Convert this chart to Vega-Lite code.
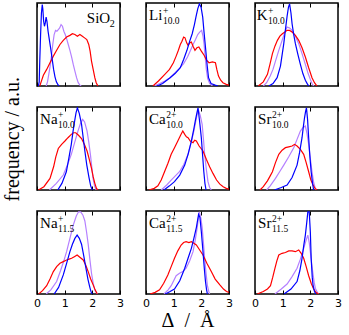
{
"$schema": "https://vega.github.io/schema/vega-lite/v6.json",
"background": "white",
"padding": {"left": 2, "top": 1, "right": 0, "bottom": 0},
"title": {"text": "frequency / a.u.", "orient": "left", "anchor": "middle", "font": "Liberation Serif", "fontSize": 20, "fontWeight": "normal", "color": "black", "offset": 10, "dx": 27},
"datasets": {
"labels": [
{"panel":"SiO2","base":"SiO","sup":"","sub":"2"},
{"panel":"Li10","base":"Li","sup":"+","sub":"10.0"},
{"panel":"K10","base":"K","sup":"+","sub":"10.0"},
{"panel":"Na10","base":"Na","sup":"+","sub":"10.0"},
{"panel":"Ca10","base":"Ca","sup":"2+","sub":"10.0"},
{"panel":"Sr10","base":"Sr","sup":"2+","sub":"10.0"},
{"panel":"Na115","base":"Na","sup":"+","sub":"11.5"},
{"panel":"Ca115","base":"Ca","sup":"2+","sub":"11.5"},
{"panel":"Sr115","base":"Sr","sup":"2+","sub":"11.5"}
],
"SiO2": [
{"series":"purple","delta":0.33,"freq":0},{"series":"purple","delta":0.38,"freq":0.05},{"series":"purple","delta":0.43,"freq":0.15},{"series":"purple","delta":0.47,"freq":0.23},{"series":"purple","delta":0.52,"freq":0.35},{"series":"purple","delta":0.57,"freq":0.5},{"series":"purple","delta":0.62,"freq":0.62},{"series":"purple","delta":0.67,"freq":0.67},{"series":"purple","delta":0.72,"freq":0.66},{"series":"purple","delta":0.77,"freq":0.68},{"series":"purple","delta":0.82,"freq":0.7},{"series":"purple","delta":0.87,"freq":0.74},{"series":"purple","delta":0.92,"freq":0.72},{"series":"purple","delta":0.97,"freq":0.66},{"series":"purple","delta":1.02,"freq":0.62},{"series":"purple","delta":1.07,"freq":0.57},{"series":"purple","delta":1.13,"freq":0.5},{"series":"purple","delta":1.19,"freq":0.43},{"series":"purple","delta":1.25,"freq":0.35},{"series":"purple","delta":1.31,"freq":0.26},{"series":"purple","delta":1.37,"freq":0.18},{"series":"purple","delta":1.43,"freq":0.1},{"series":"purple","delta":1.49,"freq":0.04},{"series":"purple","delta":1.55,"freq":0.01},{"series":"purple","delta":1.6,"freq":0},
{"series":"red","delta":0.1,"freq":0},{"series":"red","delta":0.15,"freq":0.05},{"series":"red","delta":0.23,"freq":0.13},{"series":"red","delta":0.35,"freq":0.2},{"series":"red","delta":0.47,"freq":0.28},{"series":"red","delta":0.59,"freq":0.36},{"series":"red","delta":0.71,"freq":0.43},{"series":"red","delta":0.83,"freq":0.5},{"series":"red","delta":0.95,"freq":0.55},{"series":"red","delta":1.07,"freq":0.59},{"series":"red","delta":1.19,"freq":0.61},{"series":"red","delta":1.28,"freq":0.63},{"series":"red","delta":1.37,"freq":0.62},{"series":"red","delta":1.46,"freq":0.6},{"series":"red","delta":1.55,"freq":0.62},{"series":"red","delta":1.64,"freq":0.6},{"series":"red","delta":1.72,"freq":0.58},{"series":"red","delta":1.8,"freq":0.56},{"series":"red","delta":1.87,"freq":0.5},{"series":"red","delta":1.92,"freq":0.42},{"series":"red","delta":1.97,"freq":0.3},{"series":"red","delta":2.03,"freq":0.2},{"series":"red","delta":2.09,"freq":0.1},{"series":"red","delta":2.14,"freq":0.04},{"series":"red","delta":2.2,"freq":0},
{"series":"blue","delta":0.05,"freq":0},{"series":"blue","delta":0.08,"freq":0.05},{"series":"blue","delta":0.1,"freq":0.3},{"series":"blue","delta":0.13,"freq":0.62},{"series":"blue","delta":0.16,"freq":0.88},{"series":"blue","delta":0.19,"freq":0.98},{"series":"blue","delta":0.21,"freq":0.93},{"series":"blue","delta":0.24,"freq":0.78},{"series":"blue","delta":0.27,"freq":0.72},{"series":"blue","delta":0.3,"freq":0.76},{"series":"blue","delta":0.33,"freq":0.83},{"series":"blue","delta":0.36,"freq":0.78},{"series":"blue","delta":0.4,"freq":0.66},{"series":"blue","delta":0.45,"freq":0.55},{"series":"blue","delta":0.5,"freq":0.44},{"series":"blue","delta":0.55,"freq":0.32},{"series":"blue","delta":0.6,"freq":0.2},{"series":"blue","delta":0.65,"freq":0.11},{"series":"blue","delta":0.7,"freq":0.05},{"series":"blue","delta":0.75,"freq":0.02},{"series":"blue","delta":0.8,"freq":0}
],
"Li10": [
{"series":"purple","delta":0.3,"freq":0},{"series":"purple","delta":0.5,"freq":0.03},{"series":"purple","delta":0.68,"freq":0.06},{"series":"purple","delta":0.87,"freq":0.1},{"series":"purple","delta":1.05,"freq":0.16},{"series":"purple","delta":1.2,"freq":0.21},{"series":"purple","delta":1.36,"freq":0.27},{"series":"purple","delta":1.5,"freq":0.35},{"series":"purple","delta":1.61,"freq":0.43},{"series":"purple","delta":1.7,"freq":0.5},{"series":"purple","delta":1.79,"freq":0.56},{"series":"purple","delta":1.87,"freq":0.62},{"series":"purple","delta":1.94,"freq":0.65},{"series":"purple","delta":2.01,"freq":0.67},{"series":"purple","delta":2.06,"freq":0.6},{"series":"purple","delta":2.1,"freq":0.5},{"series":"purple","delta":2.14,"freq":0.35},{"series":"purple","delta":2.18,"freq":0.2},{"series":"purple","delta":2.23,"freq":0.09},{"series":"purple","delta":2.3,"freq":0.03},{"series":"purple","delta":2.4,"freq":0},
{"series":"red","delta":0.25,"freq":0},{"series":"red","delta":0.45,"freq":0.06},{"series":"red","delta":0.68,"freq":0.14},{"series":"red","delta":0.85,"freq":0.2},{"series":"red","delta":0.99,"freq":0.28},{"series":"red","delta":1.09,"freq":0.36},{"series":"red","delta":1.17,"freq":0.43},{"series":"red","delta":1.24,"freq":0.5},{"series":"red","delta":1.3,"freq":0.54},{"series":"red","delta":1.36,"freq":0.59},{"series":"red","delta":1.41,"freq":0.58},{"series":"red","delta":1.47,"freq":0.52},{"series":"red","delta":1.52,"freq":0.49},{"series":"red","delta":1.58,"freq":0.52},{"series":"red","delta":1.64,"freq":0.53},{"series":"red","delta":1.7,"freq":0.48},{"series":"red","delta":1.77,"freq":0.43},{"series":"red","delta":1.84,"freq":0.46},{"series":"red","delta":1.91,"freq":0.47},{"series":"red","delta":2.0,"freq":0.42},{"series":"red","delta":2.1,"freq":0.37},{"series":"red","delta":2.19,"freq":0.31},{"series":"red","delta":2.28,"freq":0.28},{"series":"red","delta":2.4,"freq":0.29},{"series":"red","delta":2.51,"freq":0.28},{"series":"red","delta":2.56,"freq":0.2},{"series":"red","delta":2.62,"freq":0.12},{"series":"red","delta":2.7,"freq":0.07},{"series":"red","delta":2.78,"freq":0.04},{"series":"red","delta":2.9,"freq":0.02},{"series":"red","delta":3.0,"freq":0.01},
{"series":"blue","delta":0.4,"freq":0},{"series":"blue","delta":0.6,"freq":0.03},{"series":"blue","delta":0.87,"freq":0.1},{"series":"blue","delta":1.05,"freq":0.15},{"series":"blue","delta":1.24,"freq":0.22},{"series":"blue","delta":1.36,"freq":0.32},{"series":"blue","delta":1.48,"freq":0.43},{"series":"blue","delta":1.58,"freq":0.54},{"series":"blue","delta":1.67,"freq":0.63},{"series":"blue","delta":1.75,"freq":0.74},{"series":"blue","delta":1.81,"freq":0.84},{"series":"blue","delta":1.87,"freq":0.93},{"series":"blue","delta":1.93,"freq":0.99},{"series":"blue","delta":1.99,"freq":0.95},{"series":"blue","delta":2.05,"freq":0.83},{"series":"blue","delta":2.1,"freq":0.64},{"series":"blue","delta":2.16,"freq":0.43},{"series":"blue","delta":2.21,"freq":0.25},{"series":"blue","delta":2.26,"freq":0.1},{"series":"blue","delta":2.35,"freq":0.03},{"series":"blue","delta":2.5,"freq":0.01},{"series":"blue","delta":2.6,"freq":0}
],
"K10": [
{"series":"purple","delta":0.3,"freq":0},{"series":"purple","delta":0.42,"freq":0.04},{"series":"purple","delta":0.55,"freq":0.12},{"series":"purple","delta":0.65,"freq":0.2},{"series":"purple","delta":0.74,"freq":0.3},{"series":"purple","delta":0.86,"freq":0.43},{"series":"purple","delta":0.98,"freq":0.55},{"series":"purple","delta":1.07,"freq":0.64},{"series":"purple","delta":1.16,"freq":0.71},{"series":"purple","delta":1.25,"freq":0.7},{"series":"purple","delta":1.34,"freq":0.67},{"series":"purple","delta":1.46,"freq":0.6},{"series":"purple","delta":1.58,"freq":0.51},{"series":"purple","delta":1.7,"freq":0.39},{"series":"purple","delta":1.82,"freq":0.26},{"series":"purple","delta":1.92,"freq":0.15},{"series":"purple","delta":2.0,"freq":0.08},{"series":"purple","delta":2.06,"freq":0.03},{"series":"purple","delta":2.12,"freq":0},
{"series":"red","delta":0.12,"freq":0},{"series":"red","delta":0.3,"freq":0.05},{"series":"red","delta":0.45,"freq":0.14},{"series":"red","delta":0.54,"freq":0.26},{"series":"red","delta":0.63,"freq":0.39},{"series":"red","delta":0.72,"freq":0.48},{"series":"red","delta":0.81,"freq":0.55},{"series":"red","delta":0.9,"freq":0.6},{"series":"red","delta":0.99,"freq":0.63},{"series":"red","delta":1.08,"freq":0.65},{"series":"red","delta":1.16,"freq":0.67},{"series":"red","delta":1.25,"freq":0.67},{"series":"red","delta":1.34,"freq":0.65},{"series":"red","delta":1.46,"freq":0.61},{"series":"red","delta":1.58,"freq":0.55},{"series":"red","delta":1.7,"freq":0.46},{"series":"red","delta":1.82,"freq":0.35},{"series":"red","delta":1.94,"freq":0.22},{"series":"red","delta":2.06,"freq":0.1},{"series":"red","delta":2.15,"freq":0.04},{"series":"red","delta":2.24,"freq":0},
{"series":"blue","delta":0.5,"freq":0},{"series":"blue","delta":0.65,"freq":0.03},{"series":"blue","delta":0.8,"freq":0.1},{"series":"blue","delta":0.92,"freq":0.24},{"series":"blue","delta":1.04,"freq":0.51},{"series":"blue","delta":1.1,"freq":0.68},{"series":"blue","delta":1.16,"freq":0.84},{"series":"blue","delta":1.21,"freq":0.95},{"series":"blue","delta":1.25,"freq":0.99},{"series":"blue","delta":1.3,"freq":0.88},{"series":"blue","delta":1.34,"freq":0.75},{"series":"blue","delta":1.4,"freq":0.62},{"series":"blue","delta":1.46,"freq":0.51},{"series":"blue","delta":1.55,"freq":0.38},{"series":"blue","delta":1.64,"freq":0.26},{"series":"blue","delta":1.73,"freq":0.15},{"series":"blue","delta":1.82,"freq":0.07},{"series":"blue","delta":1.9,"freq":0.02},{"series":"blue","delta":1.95,"freq":0}
],
"Na10": [
{"series":"purple","delta":0.45,"freq":0},{"series":"purple","delta":0.7,"freq":0.08},{"series":"purple","delta":0.95,"freq":0.18},{"series":"purple","delta":1.1,"freq":0.3},{"series":"purple","delta":1.24,"freq":0.43},{"series":"purple","delta":1.36,"freq":0.57},{"series":"purple","delta":1.48,"freq":0.71},{"series":"purple","delta":1.57,"freq":0.8},{"series":"purple","delta":1.65,"freq":0.85},{"series":"purple","delta":1.72,"freq":0.82},{"series":"purple","delta":1.81,"freq":0.71},{"series":"purple","delta":1.87,"freq":0.58},{"series":"purple","delta":1.93,"freq":0.43},{"series":"purple","delta":1.98,"freq":0.28},{"series":"purple","delta":2.02,"freq":0.15},{"series":"purple","delta":2.08,"freq":0.05},{"series":"purple","delta":2.14,"freq":0},
{"series":"red","delta":0.05,"freq":0},{"series":"red","delta":0.25,"freq":0.04},{"series":"red","delta":0.47,"freq":0.14},{"series":"red","delta":0.6,"freq":0.28},{"series":"red","delta":0.68,"freq":0.4},{"series":"red","delta":0.77,"freq":0.5},{"series":"red","delta":0.89,"freq":0.55},{"series":"red","delta":1.01,"freq":0.59},{"series":"red","delta":1.12,"freq":0.63},{"series":"red","delta":1.24,"freq":0.67},{"series":"red","delta":1.32,"freq":0.69},{"series":"red","delta":1.4,"freq":0.69},{"series":"red","delta":1.5,"freq":0.66},{"series":"red","delta":1.61,"freq":0.62},{"series":"red","delta":1.71,"freq":0.55},{"series":"red","delta":1.81,"freq":0.47},{"series":"red","delta":1.89,"freq":0.37},{"series":"red","delta":1.97,"freq":0.26},{"series":"red","delta":2.03,"freq":0.16},{"series":"red","delta":2.09,"freq":0.08},{"series":"red","delta":2.15,"freq":0.02},{"series":"red","delta":2.2,"freq":0},
{"series":"blue","delta":0.75,"freq":0},{"series":"blue","delta":0.9,"freq":0.08},{"series":"blue","delta":1.06,"freq":0.22},{"series":"blue","delta":1.15,"freq":0.38},{"series":"blue","delta":1.24,"freq":0.55},{"series":"blue","delta":1.3,"freq":0.7},{"series":"blue","delta":1.36,"freq":0.83},{"series":"blue","delta":1.41,"freq":0.93},{"series":"blue","delta":1.46,"freq":0.99},{"series":"blue","delta":1.53,"freq":0.92},{"series":"blue","delta":1.61,"freq":0.79},{"series":"blue","delta":1.67,"freq":0.63},{"series":"blue","delta":1.73,"freq":0.47},{"series":"blue","delta":1.8,"freq":0.3},{"series":"blue","delta":1.88,"freq":0.15},{"series":"blue","delta":1.94,"freq":0.05},{"series":"blue","delta":2.0,"freq":0}
],
"Ca10": [
{"series":"purple","delta":0.55,"freq":0},{"series":"purple","delta":0.75,"freq":0.06},{"series":"purple","delta":0.91,"freq":0.12},{"series":"purple","delta":1.06,"freq":0.17},{"series":"purple","delta":1.21,"freq":0.22},{"series":"purple","delta":1.37,"freq":0.31},{"series":"purple","delta":1.52,"freq":0.43},{"series":"purple","delta":1.63,"freq":0.57},{"series":"purple","delta":1.73,"freq":0.71},{"series":"purple","delta":1.8,"freq":0.83},{"series":"purple","delta":1.86,"freq":0.93},{"series":"purple","delta":1.9,"freq":0.96},{"series":"purple","delta":1.96,"freq":0.9},{"series":"purple","delta":2.03,"freq":0.79},{"series":"purple","delta":2.08,"freq":0.6},{"series":"purple","delta":2.12,"freq":0.43},{"series":"purple","delta":2.18,"freq":0.25},{"series":"purple","delta":2.24,"freq":0.1},{"series":"purple","delta":2.3,"freq":0.03},{"series":"purple","delta":2.36,"freq":0},
{"series":"red","delta":0.1,"freq":0},{"series":"red","delta":0.3,"freq":0.02},{"series":"red","delta":0.43,"freq":0.05},{"series":"red","delta":0.55,"freq":0.12},{"series":"red","delta":0.67,"freq":0.22},{"series":"red","delta":0.79,"freq":0.32},{"series":"red","delta":0.91,"freq":0.43},{"series":"red","delta":1.03,"freq":0.51},{"series":"red","delta":1.15,"freq":0.59},{"series":"red","delta":1.25,"freq":0.66},{"series":"red","delta":1.33,"freq":0.71},{"series":"red","delta":1.4,"freq":0.67},{"series":"red","delta":1.46,"freq":0.64},{"series":"red","delta":1.52,"freq":0.63},{"series":"red","delta":1.6,"freq":0.59},{"series":"red","delta":1.7,"freq":0.57},{"series":"red","delta":1.76,"freq":0.6},{"series":"red","delta":1.82,"freq":0.59},{"series":"red","delta":1.92,"freq":0.53},{"series":"red","delta":2.06,"freq":0.47},{"series":"red","delta":2.18,"freq":0.37},{"series":"red","delta":2.3,"freq":0.28},{"series":"red","delta":2.42,"freq":0.2},{"series":"red","delta":2.55,"freq":0.12},{"series":"red","delta":2.67,"freq":0.07},{"series":"red","delta":2.79,"freq":0.04},{"series":"red","delta":2.9,"freq":0.02},{"series":"red","delta":3.0,"freq":0.01},
{"series":"blue","delta":0.65,"freq":0},{"series":"blue","delta":0.85,"freq":0.05},{"series":"blue","delta":1.03,"freq":0.1},{"series":"blue","delta":1.22,"freq":0.18},{"series":"blue","delta":1.4,"freq":0.3},{"series":"blue","delta":1.52,"freq":0.43},{"series":"blue","delta":1.64,"freq":0.59},{"series":"blue","delta":1.72,"freq":0.72},{"series":"blue","delta":1.78,"freq":0.83},{"series":"blue","delta":1.84,"freq":0.93},{"series":"blue","delta":1.88,"freq":0.99},{"series":"blue","delta":1.93,"freq":0.85},{"series":"blue","delta":2.0,"freq":0.63},{"series":"blue","delta":2.05,"freq":0.4},{"series":"blue","delta":2.09,"freq":0.22},{"series":"blue","delta":2.13,"freq":0.08},{"series":"blue","delta":2.17,"freq":0}
],
"Sr10": [
{"series":"purple","delta":0.42,"freq":0},{"series":"purple","delta":0.55,"freq":0.05},{"series":"purple","delta":0.74,"freq":0.14},{"series":"purple","delta":0.89,"freq":0.22},{"series":"purple","delta":1.04,"freq":0.3},{"series":"purple","delta":1.22,"freq":0.4},{"series":"purple","delta":1.4,"freq":0.51},{"series":"purple","delta":1.52,"freq":0.61},{"series":"purple","delta":1.64,"freq":0.71},{"series":"purple","delta":1.73,"freq":0.75},{"series":"purple","delta":1.82,"freq":0.77},{"series":"purple","delta":1.88,"freq":0.68},{"series":"purple","delta":1.94,"freq":0.55},{"series":"purple","delta":2.0,"freq":0.38},{"series":"purple","delta":2.06,"freq":0.22},{"series":"purple","delta":2.12,"freq":0.09},{"series":"purple","delta":2.18,"freq":0.02},{"series":"purple","delta":2.22,"freq":0},
{"series":"red","delta":0.18,"freq":0},{"series":"red","delta":0.3,"freq":0.04},{"series":"red","delta":0.45,"freq":0.11},{"series":"red","delta":0.55,"freq":0.17},{"series":"red","delta":0.63,"freq":0.22},{"series":"red","delta":0.74,"freq":0.33},{"series":"red","delta":0.86,"freq":0.43},{"series":"red","delta":0.98,"freq":0.48},{"series":"red","delta":1.1,"freq":0.51},{"series":"red","delta":1.22,"freq":0.52},{"series":"red","delta":1.34,"freq":0.53},{"series":"red","delta":1.43,"freq":0.55},{"series":"red","delta":1.52,"freq":0.53},{"series":"red","delta":1.64,"freq":0.49},{"series":"red","delta":1.76,"freq":0.43},{"series":"red","delta":1.85,"freq":0.33},{"series":"red","delta":1.94,"freq":0.22},{"series":"red","delta":2.02,"freq":0.12},{"series":"red","delta":2.1,"freq":0.06},{"series":"red","delta":2.17,"freq":0.02},{"series":"red","delta":2.24,"freq":0},
{"series":"blue","delta":0.7,"freq":0},{"series":"blue","delta":0.95,"freq":0.03},{"series":"blue","delta":1.16,"freq":0.06},{"series":"blue","delta":1.34,"freq":0.15},{"series":"blue","delta":1.52,"freq":0.3},{"series":"blue","delta":1.61,"freq":0.45},{"series":"blue","delta":1.7,"freq":0.63},{"series":"blue","delta":1.75,"freq":0.77},{"series":"blue","delta":1.79,"freq":0.87},{"series":"blue","delta":1.83,"freq":0.95},{"series":"blue","delta":1.86,"freq":0.99},{"series":"blue","delta":1.9,"freq":0.85},{"series":"blue","delta":1.94,"freq":0.63},{"series":"blue","delta":1.98,"freq":0.42},{"series":"blue","delta":2.03,"freq":0.22},{"series":"blue","delta":2.08,"freq":0.08},{"series":"blue","delta":2.12,"freq":0}
],
"Na115": [
{"series":"purple","delta":0.33,"freq":0},{"series":"purple","delta":0.5,"freq":0.05},{"series":"purple","delta":0.71,"freq":0.15},{"series":"purple","delta":0.85,"freq":0.28},{"series":"purple","delta":0.97,"freq":0.4},{"series":"purple","delta":1.07,"freq":0.51},{"series":"purple","delta":1.19,"freq":0.67},{"series":"purple","delta":1.31,"freq":0.83},{"series":"purple","delta":1.42,"freq":0.94},{"series":"purple","delta":1.5,"freq":0.99},{"series":"purple","delta":1.58,"freq":0.99},{"series":"purple","delta":1.66,"freq":0.95},{"series":"purple","delta":1.73,"freq":0.88},{"series":"purple","delta":1.79,"freq":0.75},{"series":"purple","delta":1.85,"freq":0.6},{"series":"purple","delta":1.91,"freq":0.42},{"series":"purple","delta":1.97,"freq":0.25},{"series":"purple","delta":2.03,"freq":0.13},{"series":"purple","delta":2.09,"freq":0.05},{"series":"purple","delta":2.16,"freq":0.01},{"series":"purple","delta":2.2,"freq":0},
{"series":"red","delta":0.06,"freq":0},{"series":"red","delta":0.2,"freq":0.04},{"series":"red","delta":0.35,"freq":0.1},{"series":"red","delta":0.47,"freq":0.18},{"series":"red","delta":0.59,"freq":0.27},{"series":"red","delta":0.71,"freq":0.33},{"series":"red","delta":0.83,"freq":0.37},{"series":"red","delta":0.95,"freq":0.39},{"series":"red","delta":1.07,"freq":0.41},{"series":"red","delta":1.16,"freq":0.42},{"series":"red","delta":1.25,"freq":0.43},{"series":"red","delta":1.35,"freq":0.45},{"series":"red","delta":1.45,"freq":0.47},{"series":"red","delta":1.56,"freq":0.44},{"series":"red","delta":1.67,"freq":0.41},{"series":"red","delta":1.76,"freq":0.35},{"series":"red","delta":1.85,"freq":0.27},{"series":"red","delta":1.94,"freq":0.18},{"series":"red","delta":2.03,"freq":0.11},{"series":"red","delta":2.1,"freq":0.05},{"series":"red","delta":2.18,"freq":0},
{"series":"blue","delta":0.62,"freq":0},{"series":"blue","delta":0.78,"freq":0.08},{"series":"blue","delta":0.95,"freq":0.23},{"series":"blue","delta":1.07,"freq":0.37},{"series":"blue","delta":1.19,"freq":0.51},{"series":"blue","delta":1.28,"freq":0.6},{"series":"blue","delta":1.37,"freq":0.67},{"series":"blue","delta":1.45,"freq":0.71},{"series":"blue","delta":1.53,"freq":0.67},{"series":"blue","delta":1.61,"freq":0.6},{"series":"blue","delta":1.69,"freq":0.46},{"series":"blue","delta":1.77,"freq":0.31},{"series":"blue","delta":1.84,"freq":0.18},{"series":"blue","delta":1.91,"freq":0.08},{"series":"blue","delta":1.96,"freq":0.02},{"series":"blue","delta":2.0,"freq":0}
],
"Ca115": [
{"series":"purple","delta":0.65,"freq":0},{"series":"purple","delta":0.8,"freq":0.05},{"series":"purple","delta":0.91,"freq":0.1},{"series":"purple","delta":1.0,"freq":0.16},{"series":"purple","delta":1.09,"freq":0.22},{"series":"purple","delta":1.21,"freq":0.25},{"series":"purple","delta":1.33,"freq":0.27},{"series":"purple","delta":1.45,"freq":0.31},{"series":"purple","delta":1.58,"freq":0.4},{"series":"purple","delta":1.7,"freq":0.51},{"series":"purple","delta":1.78,"freq":0.65},{"series":"purple","delta":1.85,"freq":0.8},{"series":"purple","delta":1.9,"freq":0.93},{"series":"purple","delta":1.93,"freq":0.99},{"series":"purple","delta":1.98,"freq":0.92},{"series":"purple","delta":2.03,"freq":0.8},{"series":"purple","delta":2.08,"freq":0.6},{"series":"purple","delta":2.12,"freq":0.43},{"series":"purple","delta":2.17,"freq":0.25},{"series":"purple","delta":2.22,"freq":0.1},{"series":"purple","delta":2.27,"freq":0.03},{"series":"purple","delta":2.3,"freq":0},
{"series":"red","delta":0.15,"freq":0},{"series":"red","delta":0.33,"freq":0.02},{"series":"red","delta":0.49,"freq":0.05},{"series":"red","delta":0.64,"freq":0.13},{"series":"red","delta":0.79,"freq":0.23},{"series":"red","delta":0.91,"freq":0.33},{"series":"red","delta":1.03,"freq":0.43},{"series":"red","delta":1.15,"freq":0.52},{"series":"red","delta":1.27,"freq":0.59},{"series":"red","delta":1.36,"freq":0.62},{"series":"red","delta":1.45,"freq":0.63},{"series":"red","delta":1.55,"freq":0.62},{"series":"red","delta":1.64,"freq":0.63},{"series":"red","delta":1.73,"freq":0.61},{"series":"red","delta":1.82,"freq":0.59},{"series":"red","delta":1.94,"freq":0.53},{"series":"red","delta":2.06,"freq":0.47},{"series":"red","delta":2.2,"freq":0.37},{"series":"red","delta":2.36,"freq":0.27},{"series":"red","delta":2.5,"freq":0.18},{"series":"red","delta":2.67,"freq":0.11},{"series":"red","delta":2.8,"freq":0.06},{"series":"red","delta":2.91,"freq":0.03},{"series":"red","delta":3.0,"freq":0.02},
{"series":"blue","delta":0.7,"freq":0},{"series":"blue","delta":0.87,"freq":0.03},{"series":"blue","delta":1.03,"freq":0.06},{"series":"blue","delta":1.22,"freq":0.16},{"series":"blue","delta":1.4,"freq":0.31},{"series":"blue","delta":1.52,"freq":0.43},{"series":"blue","delta":1.64,"freq":0.55},{"series":"blue","delta":1.73,"freq":0.67},{"series":"blue","delta":1.82,"freq":0.8},{"series":"blue","delta":1.87,"freq":0.9},{"series":"blue","delta":1.9,"freq":0.96},{"series":"blue","delta":1.95,"freq":0.92},{"series":"blue","delta":2.0,"freq":0.75},{"series":"blue","delta":2.06,"freq":0.51},{"series":"blue","delta":2.11,"freq":0.3},{"series":"blue","delta":2.15,"freq":0.15},{"series":"blue","delta":2.19,"freq":0.05},{"series":"blue","delta":2.22,"freq":0}
],
"Sr115": [
{"series":"purple","delta":0.72,"freq":0},{"series":"purple","delta":0.95,"freq":0.06},{"series":"purple","delta":1.16,"freq":0.12},{"series":"purple","delta":1.34,"freq":0.21},{"series":"purple","delta":1.52,"freq":0.31},{"series":"purple","delta":1.64,"freq":0.42},{"series":"purple","delta":1.76,"freq":0.55},{"series":"purple","delta":1.84,"freq":0.64},{"series":"purple","delta":1.91,"freq":0.71},{"series":"purple","delta":1.96,"freq":0.62},{"series":"purple","delta":2.0,"freq":0.51},{"series":"purple","delta":2.05,"freq":0.36},{"series":"purple","delta":2.1,"freq":0.23},{"series":"purple","delta":2.14,"freq":0.14},{"series":"purple","delta":2.18,"freq":0.07},{"series":"purple","delta":2.25,"freq":0.02},{"series":"purple","delta":2.3,"freq":0},
{"series":"red","delta":0.08,"freq":0},{"series":"red","delta":0.3,"freq":0.03},{"series":"red","delta":0.45,"freq":0.06},{"series":"red","delta":0.56,"freq":0.1},{"series":"red","delta":0.64,"freq":0.2},{"series":"red","delta":0.72,"freq":0.31},{"series":"red","delta":0.79,"freq":0.4},{"series":"red","delta":0.86,"freq":0.47},{"series":"red","delta":0.98,"freq":0.49},{"series":"red","delta":1.1,"freq":0.5},{"series":"red","delta":1.22,"freq":0.52},{"series":"red","delta":1.34,"freq":0.52},{"series":"red","delta":1.46,"freq":0.51},{"series":"red","delta":1.58,"freq":0.53},{"series":"red","delta":1.67,"freq":0.49},{"series":"red","delta":1.76,"freq":0.43},{"series":"red","delta":1.85,"freq":0.33},{"series":"red","delta":1.94,"freq":0.22},{"series":"red","delta":2.03,"freq":0.13},{"series":"red","delta":2.12,"freq":0.06},{"series":"red","delta":2.2,"freq":0.02},{"series":"red","delta":2.3,"freq":0},
{"series":"blue","delta":1.05,"freq":0},{"series":"blue","delta":1.3,"freq":0.06},{"series":"blue","delta":1.52,"freq":0.15},{"series":"blue","delta":1.62,"freq":0.28},{"series":"blue","delta":1.7,"freq":0.43},{"series":"blue","delta":1.76,"freq":0.58},{"series":"blue","delta":1.82,"freq":0.71},{"series":"blue","delta":1.87,"freq":0.86},{"series":"blue","delta":1.91,"freq":0.99},{"series":"blue","delta":1.96,"freq":0.99},{"series":"blue","delta":2.0,"freq":0.75},{"series":"blue","delta":2.03,"freq":0.43},{"series":"blue","delta":2.07,"freq":0.2},{"series":"blue","delta":2.1,"freq":0.1},{"series":"blue","delta":2.15,"freq":0.03},{"series":"blue","delta":2.2,"freq":0}
]
},
"columns": 3,
"spacing": {"row": 17, "column": 16},
"concat": [
{"width":83,"height":83,"resolve":{"axis":{"x":"independent"}},"layer":[
 {"data":{"name":"SiO2"},"mark":{"type":"line","strokeWidth":1.2,"clip":true},"encoding":{
  "x":{"field":"delta","type":"quantitative","scale":{"domain":[0,3],"nice":false},"axis":{"orient":"bottom","values":[0,1,2,3],"labels":false,"tickSize":-4,"domain":false,"grid":false,"title":null}},
  "y":{"field":"freq","type":"quantitative","scale":{"domain":[0,1],"nice":false},"axis":null},
  "color":{"field":"series","type":"nominal","scale":{"domain":["purple","red","blue"],"range":["#b580ff","#ff0000","#0000ff"]},"legend":null}}},
 {"data":{"name":"labels"},"transform":[{"filter":"datum.panel == 'SiO2'"}],"mark":{"type":"text","font":"Liberation Serif","fontSize":15,"align":"left","baseline":"alphabetic"},"encoding":{
  "x":{"datum":1.8,"type":"quantitative","axis":{"orient":"top","values":[0,1,2,3],"labels":false,"tickSize":-4,"domain":false,"grid":false,"title":null}},
  "y":{"datum":0.76,"type":"quantitative","axis":null},"text":{"field":"base"}}},
 {"data":{"name":"labels"},"transform":[{"filter":"datum.panel == 'SiO2'"}],"mark":{"type":"text","font":"Liberation Serif","fontSize":10,"align":"left","baseline":"alphabetic"},"encoding":{
  "x":{"datum":2.63,"type":"quantitative","axis":null},"y":{"datum":0.715,"type":"quantitative","axis":null},"text":{"field":"sub"}}}
]},
{"width":83,"height":83,"resolve":{"axis":{"x":"independent"}},"layer":[
 {"data":{"name":"Li10"},"mark":{"type":"line","strokeWidth":1.2,"clip":true},"encoding":{
  "x":{"field":"delta","type":"quantitative","scale":{"domain":[0,3],"nice":false},"axis":{"orient":"bottom","values":[0,1,2,3],"labels":false,"tickSize":-4,"domain":false,"grid":false,"title":null}},
  "y":{"field":"freq","type":"quantitative","scale":{"domain":[0,1],"nice":false},"axis":null},
  "color":{"field":"series","type":"nominal","scale":{"domain":["purple","red","blue"],"range":["#b580ff","#ff0000","#0000ff"]},"legend":null}}},
 {"data":{"name":"labels"},"transform":[{"filter":"datum.panel == 'Li10'"}],"mark":{"type":"text","font":"Liberation Serif","fontSize":15,"align":"left","baseline":"alphabetic"},"encoding":{
  "x":{"datum":0.11,"type":"quantitative","axis":{"orient":"top","values":[0,1,2,3],"labels":false,"tickSize":-4,"domain":false,"grid":false,"title":null}},
  "y":{"datum":0.79,"type":"quantitative","axis":null},"text":{"field":"base"}}},
 {"data":{"name":"labels"},"transform":[{"filter":"datum.panel == 'Li10'"}],"mark":{"type":"text","font":"Liberation Serif","fontSize":9.5,"align":"left","baseline":"alphabetic"},"encoding":{
  "x":{"datum":0.61,"type":"quantitative","axis":null},"y":{"datum":0.87,"type":"quantitative","axis":null},"text":{"field":"sup"}}},
 {"data":{"name":"labels"},"transform":[{"filter":"datum.panel == 'Li10'"}],"mark":{"type":"text","font":"Liberation Serif","fontSize":9.5,"align":"left","baseline":"alphabetic"},"encoding":{
  "x":{"datum":0.61,"type":"quantitative","axis":null},"y":{"datum":0.745,"type":"quantitative","axis":null},"text":{"field":"sub"}}}
]},
{"width":83,"height":83,"resolve":{"axis":{"x":"independent"}},"layer":[
 {"data":{"name":"K10"},"mark":{"type":"line","strokeWidth":1.2,"clip":true},"encoding":{
  "x":{"field":"delta","type":"quantitative","scale":{"domain":[0,3],"nice":false},"axis":{"orient":"bottom","values":[0,1,2,3],"labels":false,"tickSize":-4,"domain":false,"grid":false,"title":null}},
  "y":{"field":"freq","type":"quantitative","scale":{"domain":[0,1],"nice":false},"axis":null},
  "color":{"field":"series","type":"nominal","scale":{"domain":["purple","red","blue"],"range":["#b580ff","#ff0000","#0000ff"]},"legend":null}}},
 {"data":{"name":"labels"},"transform":[{"filter":"datum.panel == 'K10'"}],"mark":{"type":"text","font":"Liberation Serif","fontSize":15,"align":"left","baseline":"alphabetic"},"encoding":{
  "x":{"datum":0.06,"type":"quantitative","axis":{"orient":"top","values":[0,1,2,3],"labels":false,"tickSize":-4,"domain":false,"grid":false,"title":null}},
  "y":{"datum":0.79,"type":"quantitative","axis":null},"text":{"field":"base"}}},
 {"data":{"name":"labels"},"transform":[{"filter":"datum.panel == 'K10'"}],"mark":{"type":"text","font":"Liberation Serif","fontSize":9.5,"align":"left","baseline":"alphabetic"},"encoding":{
  "x":{"datum":0.47,"type":"quantitative","axis":null},"y":{"datum":0.87,"type":"quantitative","axis":null},"text":{"field":"sup"}}},
 {"data":{"name":"labels"},"transform":[{"filter":"datum.panel == 'K10'"}],"mark":{"type":"text","font":"Liberation Serif","fontSize":9.5,"align":"left","baseline":"alphabetic"},"encoding":{
  "x":{"datum":0.47,"type":"quantitative","axis":null},"y":{"datum":0.745,"type":"quantitative","axis":null},"text":{"field":"sub"}}}
]},
{"width":83,"height":83,"resolve":{"axis":{"x":"independent"}},"layer":[
 {"data":{"name":"Na10"},"mark":{"type":"line","strokeWidth":1.2,"clip":true},"encoding":{
  "x":{"field":"delta","type":"quantitative","scale":{"domain":[0,3],"nice":false},"axis":{"orient":"bottom","values":[0,1,2,3],"labels":false,"tickSize":-4,"domain":false,"grid":false,"title":null}},
  "y":{"field":"freq","type":"quantitative","scale":{"domain":[0,1],"nice":false},"axis":null},
  "color":{"field":"series","type":"nominal","scale":{"domain":["purple","red","blue"],"range":["#b580ff","#ff0000","#0000ff"]},"legend":null}}},
 {"data":{"name":"labels"},"transform":[{"filter":"datum.panel == 'Na10'"}],"mark":{"type":"text","font":"Liberation Serif","fontSize":15,"align":"left","baseline":"alphabetic"},"encoding":{
  "x":{"datum":0.11,"type":"quantitative","axis":{"orient":"top","values":[0,1,2,3],"labels":false,"tickSize":-4,"domain":false,"grid":false,"title":null}},
  "y":{"datum":0.79,"type":"quantitative","axis":null},"text":{"field":"base"}}},
 {"data":{"name":"labels"},"transform":[{"filter":"datum.panel == 'Na10'"}],"mark":{"type":"text","font":"Liberation Serif","fontSize":9.5,"align":"left","baseline":"alphabetic"},"encoding":{
  "x":{"datum":0.76,"type":"quantitative","axis":null},"y":{"datum":0.87,"type":"quantitative","axis":null},"text":{"field":"sup"}}},
 {"data":{"name":"labels"},"transform":[{"filter":"datum.panel == 'Na10'"}],"mark":{"type":"text","font":"Liberation Serif","fontSize":9.5,"align":"left","baseline":"alphabetic"},"encoding":{
  "x":{"datum":0.76,"type":"quantitative","axis":null},"y":{"datum":0.745,"type":"quantitative","axis":null},"text":{"field":"sub"}}}
]},
{"width":83,"height":83,"resolve":{"axis":{"x":"independent"}},"layer":[
 {"data":{"name":"Ca10"},"mark":{"type":"line","strokeWidth":1.2,"clip":true},"encoding":{
  "x":{"field":"delta","type":"quantitative","scale":{"domain":[0,3],"nice":false},"axis":{"orient":"bottom","values":[0,1,2,3],"labels":false,"tickSize":-4,"domain":false,"grid":false,"title":null}},
  "y":{"field":"freq","type":"quantitative","scale":{"domain":[0,1],"nice":false},"axis":null},
  "color":{"field":"series","type":"nominal","scale":{"domain":["purple","red","blue"],"range":["#b580ff","#ff0000","#0000ff"]},"legend":null}}},
 {"data":{"name":"labels"},"transform":[{"filter":"datum.panel == 'Ca10'"}],"mark":{"type":"text","font":"Liberation Serif","fontSize":15,"align":"left","baseline":"alphabetic"},"encoding":{
  "x":{"datum":0.11,"type":"quantitative","axis":{"orient":"top","values":[0,1,2,3],"labels":false,"tickSize":-4,"domain":false,"grid":false,"title":null}},
  "y":{"datum":0.79,"type":"quantitative","axis":null},"text":{"field":"base"}}},
 {"data":{"name":"labels"},"transform":[{"filter":"datum.panel == 'Ca10'"}],"mark":{"type":"text","font":"Liberation Serif","fontSize":9.5,"align":"left","baseline":"alphabetic"},"encoding":{
  "x":{"datum":0.73,"type":"quantitative","axis":null},"y":{"datum":0.87,"type":"quantitative","axis":null},"text":{"field":"sup"}}},
 {"data":{"name":"labels"},"transform":[{"filter":"datum.panel == 'Ca10'"}],"mark":{"type":"text","font":"Liberation Serif","fontSize":9.5,"align":"left","baseline":"alphabetic"},"encoding":{
  "x":{"datum":0.73,"type":"quantitative","axis":null},"y":{"datum":0.745,"type":"quantitative","axis":null},"text":{"field":"sub"}}}
]},
{"width":83,"height":83,"resolve":{"axis":{"x":"independent"}},"layer":[
 {"data":{"name":"Sr10"},"mark":{"type":"line","strokeWidth":1.2,"clip":true},"encoding":{
  "x":{"field":"delta","type":"quantitative","scale":{"domain":[0,3],"nice":false},"axis":{"orient":"bottom","values":[0,1,2,3],"labels":false,"tickSize":-4,"domain":false,"grid":false,"title":null}},
  "y":{"field":"freq","type":"quantitative","scale":{"domain":[0,1],"nice":false},"axis":null},
  "color":{"field":"series","type":"nominal","scale":{"domain":["purple","red","blue"],"range":["#b580ff","#ff0000","#0000ff"]},"legend":null}}},
 {"data":{"name":"labels"},"transform":[{"filter":"datum.panel == 'Sr10'"}],"mark":{"type":"text","font":"Liberation Serif","fontSize":15,"align":"left","baseline":"alphabetic"},"encoding":{
  "x":{"datum":0.11,"type":"quantitative","axis":{"orient":"top","values":[0,1,2,3],"labels":false,"tickSize":-4,"domain":false,"grid":false,"title":null}},
  "y":{"datum":0.79,"type":"quantitative","axis":null},"text":{"field":"base"}}},
 {"data":{"name":"labels"},"transform":[{"filter":"datum.panel == 'Sr10'"}],"mark":{"type":"text","font":"Liberation Serif","fontSize":9.5,"align":"left","baseline":"alphabetic"},"encoding":{
  "x":{"datum":0.61,"type":"quantitative","axis":null},"y":{"datum":0.87,"type":"quantitative","axis":null},"text":{"field":"sup"}}},
 {"data":{"name":"labels"},"transform":[{"filter":"datum.panel == 'Sr10'"}],"mark":{"type":"text","font":"Liberation Serif","fontSize":9.5,"align":"left","baseline":"alphabetic"},"encoding":{
  "x":{"datum":0.61,"type":"quantitative","axis":null},"y":{"datum":0.745,"type":"quantitative","axis":null},"text":{"field":"sub"}}}
]},
{"width":83,"height":83,"resolve":{"axis":{"x":"independent"}},"layer":[
 {"data":{"name":"Na115"},"mark":{"type":"line","strokeWidth":1.2,"clip":true},"encoding":{
  "x":{"field":"delta","type":"quantitative","scale":{"domain":[0,3],"nice":false},"axis":{"orient":"bottom","values":[0,1,2,3],"labels":true,"labelFont":"DejaVu Sans","labelFontSize":11,"labelColor":"black","labelPadding":7,"labelFlush":false,"tickSize":-4,"domain":false,"grid":false,"title":null}},
  "y":{"field":"freq","type":"quantitative","scale":{"domain":[0,1],"nice":false},"axis":null},
  "color":{"field":"series","type":"nominal","scale":{"domain":["purple","red","blue"],"range":["#b580ff","#ff0000","#0000ff"]},"legend":null}}},
 {"data":{"name":"labels"},"transform":[{"filter":"datum.panel == 'Na115'"}],"mark":{"type":"text","font":"Liberation Serif","fontSize":15,"align":"left","baseline":"alphabetic"},"encoding":{
  "x":{"datum":0.11,"type":"quantitative","axis":{"orient":"top","values":[0,1,2,3],"labels":false,"tickSize":-4,"domain":false,"grid":false,"title":null}},
  "y":{"datum":0.79,"type":"quantitative","axis":null},"text":{"field":"base"}}},
 {"data":{"name":"labels"},"transform":[{"filter":"datum.panel == 'Na115'"}],"mark":{"type":"text","font":"Liberation Serif","fontSize":9.5,"align":"left","baseline":"alphabetic"},"encoding":{
  "x":{"datum":0.76,"type":"quantitative","axis":null},"y":{"datum":0.87,"type":"quantitative","axis":null},"text":{"field":"sup"}}},
 {"data":{"name":"labels"},"transform":[{"filter":"datum.panel == 'Na115'"}],"mark":{"type":"text","font":"Liberation Serif","fontSize":9.5,"align":"left","baseline":"alphabetic"},"encoding":{
  "x":{"datum":0.76,"type":"quantitative","axis":null},"y":{"datum":0.745,"type":"quantitative","axis":null},"text":{"field":"sub"}}}
]},
{"width":83,"height":83,"resolve":{"axis":{"x":"independent"}},"layer":[
 {"data":{"name":"Ca115"},"mark":{"type":"line","strokeWidth":1.2,"clip":true},"encoding":{
  "x":{"field":"delta","type":"quantitative","scale":{"domain":[0,3],"nice":false},"axis":{"orient":"bottom","values":[0,1,2,3],"labels":true,"labelFont":"DejaVu Sans","labelFontSize":11,"labelColor":"black","labelPadding":7,"labelFlush":false,"tickSize":-4,"domain":false,"grid":false,"title":"Δ\u2002/\u2002Å","titleFont":"Liberation Serif","titleFontSize":20,"titleFontWeight":"normal","titleColor":"black","titlePadding":2}},
  "y":{"field":"freq","type":"quantitative","scale":{"domain":[0,1],"nice":false},"axis":null},
  "color":{"field":"series","type":"nominal","scale":{"domain":["purple","red","blue"],"range":["#b580ff","#ff0000","#0000ff"]},"legend":null}}},
 {"data":{"name":"labels"},"transform":[{"filter":"datum.panel == 'Ca115'"}],"mark":{"type":"text","font":"Liberation Serif","fontSize":15,"align":"left","baseline":"alphabetic"},"encoding":{
  "x":{"datum":0.11,"type":"quantitative","axis":{"orient":"top","values":[0,1,2,3],"labels":false,"tickSize":-4,"domain":false,"grid":false,"title":null}},
  "y":{"datum":0.79,"type":"quantitative","axis":null},"text":{"field":"base"}}},
 {"data":{"name":"labels"},"transform":[{"filter":"datum.panel == 'Ca115'"}],"mark":{"type":"text","font":"Liberation Serif","fontSize":9.5,"align":"left","baseline":"alphabetic"},"encoding":{
  "x":{"datum":0.73,"type":"quantitative","axis":null},"y":{"datum":0.87,"type":"quantitative","axis":null},"text":{"field":"sup"}}},
 {"data":{"name":"labels"},"transform":[{"filter":"datum.panel == 'Ca115'"}],"mark":{"type":"text","font":"Liberation Serif","fontSize":9.5,"align":"left","baseline":"alphabetic"},"encoding":{
  "x":{"datum":0.73,"type":"quantitative","axis":null},"y":{"datum":0.745,"type":"quantitative","axis":null},"text":{"field":"sub"}}}
]},
{"width":83,"height":83,"resolve":{"axis":{"x":"independent"}},"layer":[
 {"data":{"name":"Sr115"},"mark":{"type":"line","strokeWidth":1.2,"clip":true},"encoding":{
  "x":{"field":"delta","type":"quantitative","scale":{"domain":[0,3],"nice":false},"axis":{"orient":"bottom","values":[0,1,2,3],"labels":true,"labelFont":"DejaVu Sans","labelFontSize":11,"labelColor":"black","labelPadding":7,"labelFlush":false,"tickSize":-4,"domain":false,"grid":false,"title":null}},
  "y":{"field":"freq","type":"quantitative","scale":{"domain":[0,1],"nice":false},"axis":null},
  "color":{"field":"series","type":"nominal","scale":{"domain":["purple","red","blue"],"range":["#b580ff","#ff0000","#0000ff"]},"legend":null}}},
 {"data":{"name":"labels"},"transform":[{"filter":"datum.panel == 'Sr115'"}],"mark":{"type":"text","font":"Liberation Serif","fontSize":15,"align":"left","baseline":"alphabetic"},"encoding":{
  "x":{"datum":0.11,"type":"quantitative","axis":{"orient":"top","values":[0,1,2,3],"labels":false,"tickSize":-4,"domain":false,"grid":false,"title":null}},
  "y":{"datum":0.79,"type":"quantitative","axis":null},"text":{"field":"base"}}},
 {"data":{"name":"labels"},"transform":[{"filter":"datum.panel == 'Sr115'"}],"mark":{"type":"text","font":"Liberation Serif","fontSize":9.5,"align":"left","baseline":"alphabetic"},"encoding":{
  "x":{"datum":0.61,"type":"quantitative","axis":null},"y":{"datum":0.87,"type":"quantitative","axis":null},"text":{"field":"sup"}}},
 {"data":{"name":"labels"},"transform":[{"filter":"datum.panel == 'Sr115'"}],"mark":{"type":"text","font":"Liberation Serif","fontSize":9.5,"align":"left","baseline":"alphabetic"},"encoding":{
  "x":{"datum":0.61,"type":"quantitative","axis":null},"y":{"datum":0.745,"type":"quantitative","axis":null},"text":{"field":"sub"}}}
]}
],
"config": {
 "view": {"stroke": "black", "strokeWidth": 1.5},
 "axis": {"tickColor": "black", "tickWidth": 1, "labelColor": "black", "titleColor": "black"},
 "text": {"color": "black"}
}
}
